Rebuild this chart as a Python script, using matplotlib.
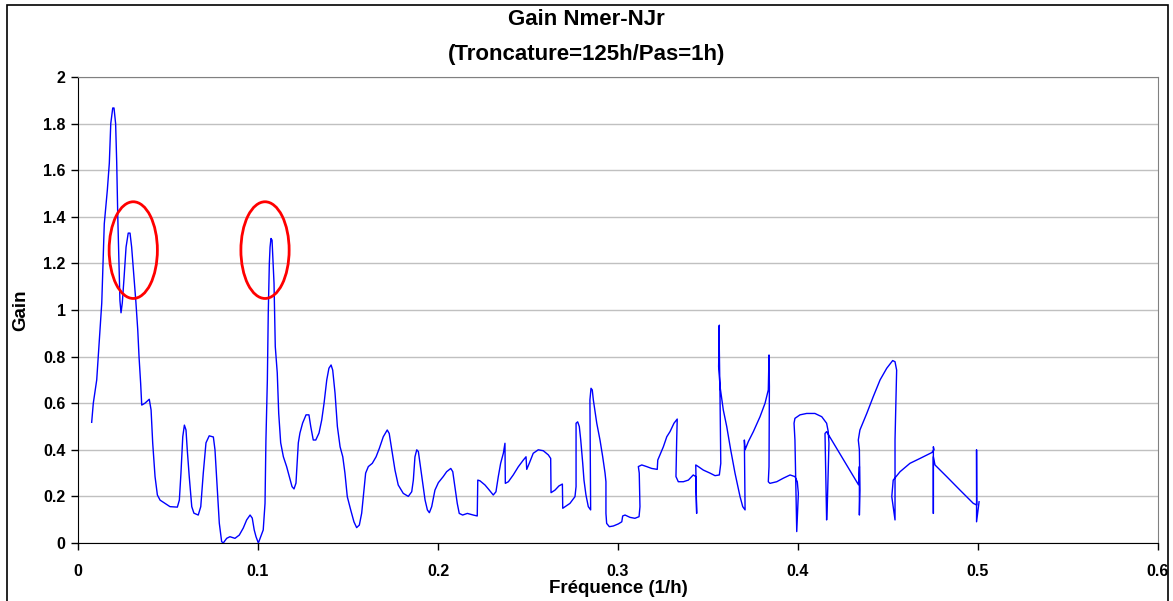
import matplotlib
matplotlib.use("Agg")
import matplotlib.pyplot as plt
from matplotlib.patches import Ellipse, Rectangle
from matplotlib.ticker import FuncFormatter

plt.rcParams['font.family'] = ['Liberation Sans', 'DejaVu Sans']

title = "Gain Nmer-NJr\n(Troncature=125h/Pas=1h)"
x_label = "Fréquence (1/h)"
y_label = "Gain"
x_ticks = [0, 0.1, 0.2, 0.3, 0.4, 0.5, 0.6]
y_ticks = [0, 0.2, 0.4, 0.6, 0.8, 1.0, 1.2, 1.4, 1.6, 1.8, 2.0]

freq = [0.0076, 0.0085, 0.0104, 0.0122, 0.0132, 0.0141, 0.0146, 0.0163, 0.0174, 0.0182,
        0.0193, 0.0200, 0.0209, 0.0215, 0.0221, 0.0228, 0.0233, 0.0239, 0.0246, 0.0256,
        0.0267, 0.0279, 0.0289, 0.0298, 0.0311, 0.0322, 0.0332, 0.0339, 0.0348, 0.0354,
        0.0372, 0.0396, 0.0406, 0.0415, 0.0428, 0.0441, 0.0456, 0.0483, 0.0511, 0.0552,
        0.0563, 0.0572, 0.0582, 0.0591, 0.0600, 0.0607, 0.0618, 0.0632, 0.0644, 0.0668,
        0.0682, 0.0696, 0.0711, 0.0729, 0.0752, 0.0761, 0.0774, 0.0785, 0.0798, 0.0807,
        0.0826, 0.0844, 0.0872, 0.0896, 0.0918, 0.0937, 0.0956, 0.0968, 0.0979, 0.0989,
        0.1002, 0.1015, 0.1029, 0.1039, 0.1044, 0.1052, 0.1057, 0.1063, 0.1067, 0.1072,
        0.1078, 0.1082, 0.1089, 0.1096, 0.1107, 0.1115, 0.1126, 0.1141, 0.1159, 0.1174,
        0.1189, 0.1200, 0.1211, 0.1224, 0.1233, 0.1248, 0.1267, 0.1283, 0.1293, 0.1307,
        0.1321, 0.1339, 0.1354, 0.1367, 0.1382, 0.1394, 0.1406, 0.1415, 0.1428, 0.1441,
        0.1456, 0.1471, 0.1483, 0.1496, 0.1515, 0.1533, 0.1548, 0.1563, 0.1576, 0.1589,
        0.1598, 0.1613, 0.1635, 0.1656, 0.1674, 0.1696, 0.1718, 0.1729, 0.1743, 0.1761,
        0.1779, 0.1807, 0.1835, 0.1854, 0.1863, 0.1872, 0.1882, 0.1891, 0.1900, 0.1913,
        0.1928, 0.1941, 0.1952, 0.1965, 0.1983, 0.2002, 0.2029, 0.2048, 0.2071, 0.2082,
        0.2094, 0.2107, 0.2118, 0.2137, 0.2163, 0.2196, 0.2218, 0.2221, 0.2233, 0.2261,
        0.2285, 0.2307, 0.2322, 0.2335, 0.2348, 0.2363, 0.2372, 0.2374, 0.2391, 0.2418,
        0.2446, 0.2474, 0.2489, 0.2493, 0.2507, 0.2529, 0.2557, 0.2585, 0.2613, 0.2626,
        0.2628, 0.2650, 0.2672, 0.2691, 0.2693, 0.2706, 0.2733, 0.2761, 0.2767, 0.2767,
        0.2776, 0.2785, 0.2793, 0.2804, 0.2811, 0.2822, 0.2835, 0.2848, 0.2844, 0.2850,
        0.2857, 0.2863, 0.2882, 0.2900, 0.2915, 0.2928, 0.2933, 0.2933, 0.2937, 0.2952,
        0.2974, 0.3002, 0.3021, 0.3026, 0.3039, 0.3067, 0.3094, 0.3117, 0.3122, 0.3118,
        0.3113, 0.3132, 0.3159, 0.3187, 0.3218, 0.3221, 0.3233, 0.3252, 0.3271, 0.3289,
        0.3311, 0.3329, 0.3326, 0.3322, 0.3335, 0.3363, 0.3391, 0.3418, 0.3432, 0.3437,
        0.3432, 0.3446, 0.3474, 0.3511, 0.3539, 0.3563, 0.3571, 0.3567, 0.3561, 0.3563,
        0.3559, 0.3567, 0.3585, 0.3604, 0.3626, 0.3650, 0.3678, 0.3693, 0.3706, 0.3702,
        0.3706, 0.3724, 0.3752, 0.3789, 0.3817, 0.3835, 0.3839, 0.3841, 0.3839, 0.3835,
        0.3844, 0.3882, 0.3918, 0.3956, 0.3983, 0.3996, 0.4002, 0.3993, 0.3983, 0.3978,
        0.3983, 0.4011, 0.4048, 0.4094, 0.4132, 0.4159, 0.4168, 0.4172, 0.4163, 0.4159,
        0.4150, 0.4159, 0.4336, 0.4341, 0.4341, 0.4344, 0.4341, 0.4335, 0.4344, 0.4382,
        0.4418, 0.4456, 0.4493, 0.4526, 0.4539, 0.4548, 0.4539, 0.4539, 0.4521, 0.4529,
        0.4567, 0.4622, 0.4678, 0.4743, 0.4756, 0.4752, 0.4752, 0.4752, 0.4761, 0.4826,
        0.4900, 0.4974, 0.4993, 0.4992, 0.4992, 0.5006]

gain = [0.518, 0.60, 0.70, 0.914, 1.03, 1.257, 1.37, 1.515, 1.63, 1.80,
        1.867, 1.867, 1.80, 1.635, 1.40, 1.20, 1.04, 0.988, 1.03, 1.14,
        1.27, 1.33, 1.33, 1.27, 1.14, 1.03, 0.914, 0.80, 0.686, 0.592,
        0.60, 0.617, 0.571, 0.429, 0.285, 0.206, 0.184, 0.170, 0.156, 0.154,
        0.184, 0.30, 0.456, 0.506, 0.485, 0.40, 0.285, 0.156, 0.128, 0.12,
        0.156, 0.30, 0.43, 0.46, 0.455, 0.40, 0.227, 0.085, 0.006, 0.0,
        0.02, 0.027, 0.02, 0.034, 0.064, 0.099, 0.12, 0.107, 0.056, 0.027,
        0.0, 0.027, 0.056, 0.17, 0.44, 0.70, 0.987, 1.20, 1.27, 1.307,
        1.30, 1.23, 1.115, 0.843, 0.73, 0.557, 0.43, 0.37, 0.328, 0.285,
        0.242, 0.232, 0.257, 0.43, 0.472, 0.515, 0.55, 0.55, 0.50, 0.442,
        0.442, 0.472, 0.528, 0.60, 0.70, 0.75, 0.764, 0.742, 0.643, 0.50,
        0.413, 0.37, 0.30, 0.199, 0.142, 0.091, 0.066, 0.077, 0.128, 0.227,
        0.30, 0.328, 0.342, 0.37, 0.406, 0.456, 0.485, 0.47, 0.40, 0.313,
        0.249, 0.213, 0.20, 0.22, 0.27, 0.37, 0.40, 0.392, 0.342, 0.27,
        0.185, 0.142, 0.13, 0.156, 0.227, 0.259, 0.285, 0.306, 0.32, 0.306,
        0.242, 0.17, 0.127, 0.12, 0.127, 0.12, 0.116, 0.27, 0.267, 0.249,
        0.227, 0.206, 0.22, 0.285, 0.342, 0.385, 0.428, 0.256, 0.263, 0.292,
        0.327, 0.356, 0.37, 0.316, 0.342, 0.385, 0.40, 0.396, 0.378, 0.363,
        0.216, 0.227, 0.245, 0.253, 0.149, 0.156, 0.17, 0.199, 0.242, 0.514,
        0.52, 0.50, 0.442, 0.342, 0.27, 0.206, 0.156, 0.142, 0.614, 0.664,
        0.657, 0.614, 0.514, 0.442, 0.37, 0.30, 0.263, 0.127, 0.084, 0.07,
        0.073, 0.082, 0.091, 0.116, 0.12, 0.11, 0.106, 0.113, 0.156, 0.30,
        0.328, 0.335, 0.328, 0.32, 0.316, 0.356, 0.378, 0.413, 0.456, 0.478,
        0.514, 0.532, 0.442, 0.285, 0.263, 0.263, 0.27, 0.292, 0.285, 0.127,
        0.335, 0.328, 0.313, 0.30, 0.289, 0.292, 0.342, 0.614, 0.928, 0.935,
        0.757, 0.671, 0.571, 0.50, 0.40, 0.30, 0.199, 0.156, 0.142, 0.442,
        0.40, 0.435, 0.478, 0.542, 0.60, 0.657, 0.807, 0.671, 0.328, 0.263,
        0.256, 0.263, 0.278, 0.292, 0.285, 0.263, 0.213, 0.049, 0.442, 0.514,
        0.535, 0.55, 0.556, 0.556, 0.542, 0.514, 0.478, 0.428, 0.17, 0.099,
        0.47, 0.478, 0.25, 0.328, 0.12, 0.227, 0.40, 0.442, 0.485, 0.556,
        0.628, 0.70, 0.75, 0.783, 0.778, 0.742, 0.442, 0.099, 0.199, 0.27,
        0.306, 0.342, 0.363, 0.388, 0.40, 0.413, 0.127, 0.37, 0.335, 0.285,
        0.227, 0.17, 0.163, 0.40, 0.091, 0.177]

# highlighted peaks (centre freq, centre gain, width, height)
circle_x = [0.0307, 0.1039]
circle_y = [1.257, 1.257]
circle_w = 0.0268
circle_h = 0.415

fig = plt.figure(figsize=(11.73, 6.01), dpi=100)
ax = fig.add_axes([78/1173, 1-543/601, 1080/1173, 466/601])

ax.plot(freq, gain, color='#0000ff', linewidth=1.0, zorder=3)

for cx, cy in zip(circle_x, circle_y):
    ax.add_patch(Ellipse((cx, cy), circle_w, circle_h, fill=False,
                         edgecolor='#ff0000', linewidth=2.0, zorder=4))

ax.set_xlim(0, 0.6)
ax.set_ylim(0, 2)
ax.set_xticks(x_ticks)
ax.set_yticks(y_ticks)
fmt = FuncFormatter(lambda v, p: f"{v:g}")
ax.xaxis.set_major_formatter(fmt)
ax.yaxis.set_major_formatter(fmt)
ax.grid(axis='y', color='#c0c0c0', linewidth=1.0, zorder=0)
ax.set_axisbelow(True)
for lab in ax.get_xticklabels() + ax.get_yticklabels():
    lab.set_fontweight('bold')
    lab.set_fontsize(11.5)
ax.tick_params(axis='both', direction='out', length=5, width=1, color='black')
ax.tick_params(axis='x', pad=10)
ax.tick_params(axis='y', pad=4)
ax.spines['left'].set_color('black')
ax.spines['bottom'].set_color('black')
ax.spines['top'].set_color('#808080')
ax.spines['right'].set_color('#808080')

ax.set_xlabel(x_label, fontsize=13.5, fontweight='bold', labelpad=1)
ax.set_ylabel(y_label, fontsize=13.5, fontweight='bold', labelpad=10)

fig.text(0.5, 1-37/601, title, ha='center', va='center', fontsize=16,
         fontweight='bold', linespacing=1.9)

fig.patches.append(Rectangle((7/1173, -0.01), 1161/1173, 1-5/601+0.01,
                             transform=fig.transFigure, fill=False,
                             edgecolor='black', linewidth=1.2))

fig.savefig('out.png', dpi=100)
